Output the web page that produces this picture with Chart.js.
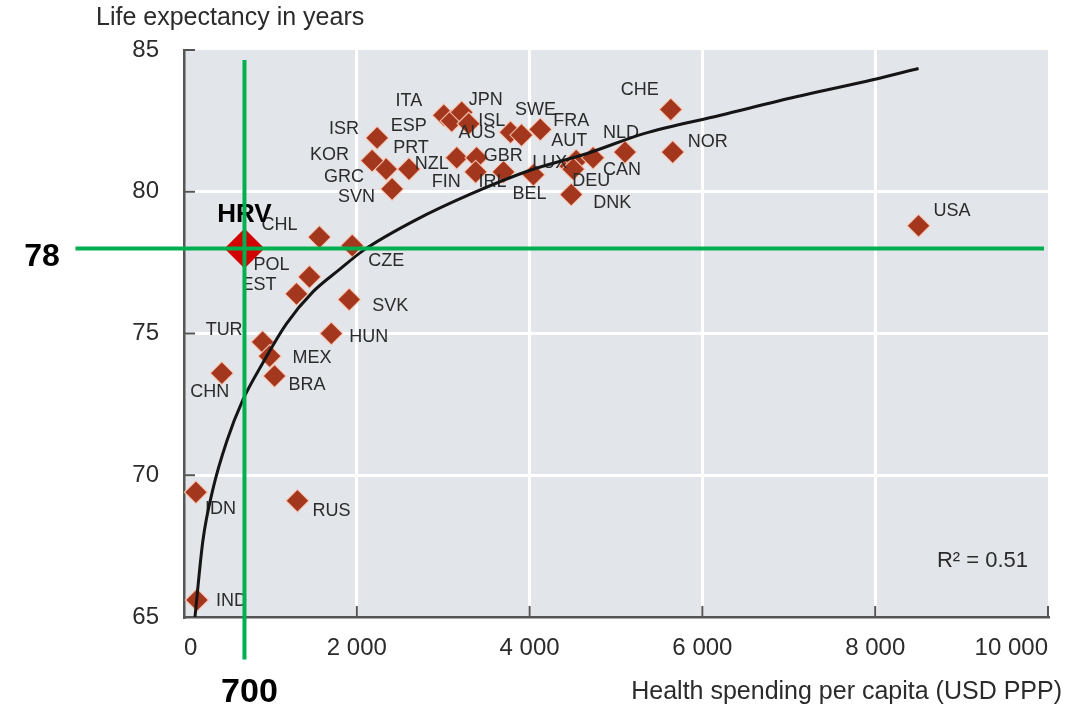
<!DOCTYPE html>
<html>
<head>
<meta charset="utf-8">
<script src="https://cdn.jsdelivr.net/npm/chart.js@4.4.1/dist/chart.umd.min.js"></script>
<style>
  html, body { margin: 0; padding: 0; background: #fff; }
  #wrap { width: 1068px; height: 709px; }
</style>
</head>
<body>
<div id="wrap"><canvas id="chart" width="1068" height="709"></canvas></div>
<script>
// values
const countries = ['IND', 'IDN', 'RUS', 'CHN', 'TUR', 'MEX', 'BRA', 'HUN', 'SVK', 'EST', 'POL', 'CZE', 'CHL',
    'SVN', 'GRC', 'KOR', 'ISR', 'PRT', 'ITA', 'ESP', 'JPN', 'ISL', 'AUS', 'SWE', 'FRA', 'NZL', 'GBR', 'FIN',
    'IRL', 'BEL', 'LUX', 'AUT', 'DEU', 'CAN', 'NLD', 'DNK', 'CHE', 'NOR', 'USA'];
const spending = [150, 138, 1313, 438, 910, 991, 1048, 1705, 1912, 1302, 1452, 1947, 1567,
    2408, 2339, 2177, 2235, 2604, 3007, 3099, 3214, 3295, 3779, 3906, 4124, 3157, 3387, 3376,
    3698, 4044, 4470, 4539, 4505, 4735, 5104, 4482, 5634, 5657, 8502];
const lifeExp = [65.6, 69.4, 69.1, 73.6, 74.7, 74.2, 73.5, 75.0, 76.2, 76.4, 77.0, 78.1, 78.4,
    80.1, 80.8, 81.1, 81.9, 80.8, 82.7, 82.5, 82.8, 82.4, 82.1, 82.0, 82.2, 81.2, 81.2, 80.7,
    80.7, 80.6, 80.9, 81.1, 80.8, 81.2, 81.4, 79.9, 82.9, 81.4, 78.8];

// fitted curve as drawn in the picture
const trendSpending = [127, 219, 334, 495, 680, 910, 1187, 1486, 1797, 2085, 2679, 3341, 3998, 4666, 5323, 6210, 7085, 7972, 8502];
const trendLifeExp = [65.0, 67.7, 69.5, 71.2, 72.65, 73.95, 75.35, 76.45, 77.25, 77.95, 79.0, 79.95, 80.75, 81.35, 82.05, 82.7, 83.35, 83.95, 84.35];

const hrvSpending = 700;
const hrvLifeExp = 78;
const guideYSpan = [84.65, 63.5];
const guideXSpan = [-1256, 9954];

const xTicks = [0, 2000, 4000, 6000, 8000, 10000];
const yTicks = [65, 70, 75, 80, 85];
const rSquared = 'R² = 0.51';

// label placement: dx, dy from the marker, text alignment
const labelPlace = {
    IND: [19, 1, 'left'], IDN: [9, 17, 'left'], RUS: [15, 10, 'left'], CHN: [-12, 19, 'center'],
    TUR: [-20, -12, 'right'], MEX: [23, 2, 'left'], BRA: [14, 9, 'left'], HUN: [18, 4, 'left'],
    SVK: [23, 7, 'left'], EST: [-20, -9, 'right'], POL: [-20, -12, 'right'], CZE: [16, 15, 'left'],
    CHL: [-22, -12, 'right'], SVN: [-17, 8, 'right'], GRC: [-22, 8, 'right'], KOR: [-23, -6, 'right'],
    ISR: [-18, -9, 'right'], PRT: [2, -21, 'center'], ITA: [-35, -14, 'center'], ESP: [-43, 5, 'center'],
    JPN: [24, -12, 'center'], ISL: [23, -3, 'center'], AUS: [-15, 1, 'right'], SWE: [14, -25, 'center'],
    FRA: [13, -8, 'left'], NZL: [-8, 6, 'right'], GBR: [7, -2, 'left'], FIN: [-15, 10, 'right'],
    IRL: [-11, 10, 'center'], BEL: [-4, 19, 'center'], LUX: [-3, -3, 'right'], AUT: [-7, -20, 'center'],
    DEU: [18, 12, 'center'], CAN: [10, 12, 'left'], NLD: [-4, -19, 'center'], DNK: [22, 8, 'left'],
    CHE: [-31, -20, 'center'], NOR: [15, -10, 'left'], USA: [15, -15, 'left']
};

const FONT = "'Liberation Sans', Arial, sans-serif";
const TEXT = '#2b2b2b';
const AXIS = '#555555';

function spaced(v) {
    return String(v).replace(/\B(?=(\d{3})+(?!\d))/g, ' ');
}

const backdrop = {
    id: 'backdrop',
    beforeDraw(chart) {
        const { ctx, chartArea: a } = chart;
        ctx.save();
        ctx.fillStyle = '#e2e5e9';
        ctx.fillRect(a.left, a.top, a.right - a.left, a.bottom - a.top);
        ctx.restore();
    }
};

// small tick marks pointing into the plot
const innerTicks = {
    id: 'innerTicks',
    beforeDatasetsDraw(chart) {
        const { ctx, chartArea: a, scales } = chart;
        ctx.save();
        ctx.strokeStyle = AXIS;
        ctx.lineWidth = 2;
        ctx.beginPath();
        yTicks.forEach(v => {
            const y = scales.y.getPixelForValue(v);
            ctx.moveTo(a.left, y);
            ctx.lineTo(a.left + 11, y);
        });
        xTicks.slice(1).forEach(v => {
            const x = scales.x.getPixelForValue(v);
            ctx.moveTo(x, a.bottom);
            ctx.lineTo(x, a.bottom - 11);
        });
        ctx.stroke();
        ctx.restore();
    }
};

const markLabels = {
    id: 'markLabels',
    afterDatasetDraw(chart, args) {
        const ds = chart.data.datasets[args.index];
        const { ctx } = chart;
        ctx.save();
        ctx.textBaseline = 'middle';
        if (ds.id === 'countries') {
            ctx.font = '18px ' + FONT;
            ctx.fillStyle = TEXT;
            args.meta.data.forEach((pt, i) => {
                const p = labelPlace[countries[i]];
                ctx.textAlign = p[2];
                ctx.fillText(countries[i], pt.x + p[0], pt.y + p[1]);
            });
        } else if (ds.id === 'hrv') {
            const pt = args.meta.data[0];
            ctx.font = 'bold 26px ' + FONT;
            ctx.fillStyle = '#000';
            ctx.textAlign = 'center';
            ctx.fillText('HRV', pt.x, pt.y - 34);
        }
        ctx.restore();
    },
    afterDraw(chart) {
        const { ctx, chartArea: a, scales } = chart;
        ctx.save();
        ctx.textBaseline = 'middle';
        ctx.fillStyle = TEXT;
        ctx.font = '25px ' + FONT;
        ctx.textAlign = 'left';
        ctx.fillText('Life expectancy in years', 96, 18);
        ctx.textAlign = 'right';
        ctx.fillText('Health spending per capita (USD PPP)', 1062, 692);
        ctx.font = '22px ' + FONT;
        ctx.fillText(rSquared, a.right - 20, scales.y.getPixelForValue(66.97));
        ctx.fillStyle = '#000';
        ctx.font = 'bold 32px ' + FONT;
        ctx.textAlign = 'center';
        ctx.fillText(String(hrvLifeExp), 42, scales.y.getPixelForValue(hrvLifeExp) + 9);
        ctx.font = 'bold 34px ' + FONT;
        ctx.fillText(String(hrvSpending), scales.x.getPixelForValue(hrvSpending) + 5, 693);
        ctx.restore();
    }
};

new Chart(document.getElementById('chart'), {
    type: 'scatter',
    data: {
        datasets: [
            {
                id: 'guideV',
                data: guideYSpan.map(y => ({ x: hrvSpending, y })),
                showLine: true, borderColor: '#00b050', borderWidth: 4,
                pointRadius: 0, clip: false, order: 0
            },
            {
                id: 'guideH',
                data: guideXSpan.map(x => ({ x, y: hrvLifeExp })),
                showLine: true, borderColor: '#00b050', borderWidth: 4,
                pointRadius: 0, clip: false, order: 0
            },
            {
                id: 'hrv',
                data: [{ x: hrvSpending, y: hrvLifeExp }],
                pointStyle: 'rectRot', pointRadius: 20,
                backgroundColor: '#d20000', borderColor: '#d20000', borderWidth: 0,
                clip: false, order: 1
            },
            {
                id: 'trend',
                data: trendSpending.map((x, i) => ({ x, y: trendLifeExp[i] })),
                showLine: true, borderColor: '#151515', borderWidth: 3,
                cubicInterpolationMode: 'monotone', pointRadius: 0, order: 2
            },
            {
                id: 'countries',
                data: spending.map((x, i) => ({ x, y: lifeExp[i] })),
                pointStyle: 'rectRot', pointRadius: 11.5,
                backgroundColor: '#a2371d', borderColor: 'rgba(255,205,185,0.85)', borderWidth: 1.2,
                clip: false, order: 3
            }
        ]
    },
    options: {
        responsive: false,
        animation: false,
        devicePixelRatio: 1,
        layout: { padding: { top: 50, right: 13, left: 0, bottom: 0 } },
        plugins: { legend: { display: false }, tooltip: { enabled: false } },
        scales: {
            x: {
                type: 'linear', min: 0, max: 10000,
                afterBuildTicks: s => { s.ticks = xTicks.map(value => ({ value })); },
                afterFit: s => { s.height = 92; },
                ticks: {
                    align: 'inner', padding: 17, color: TEXT,
                    font: { family: FONT, size: 24 },
                    callback: v => spaced(v)
                },
                grid: {
                    drawTicks: false, lineWidth: 3,
                    color: c => (c.tick && c.tick.value > 0 && c.tick.value < 10000) ? '#ffffff' : 'rgba(0,0,0,0)'
                },
                border: { display: true, color: AXIS, width: 2.5 }
            },
            y: {
                type: 'linear', min: 65, max: 85,
                afterBuildTicks: s => { s.ticks = yTicks.map(value => ({ value })); },
                afterFit: s => { s.width = 184; },
                ticks: {
                    padding: 25, color: TEXT,
                    font: { family: FONT, size: 24 }
                },
                grid: {
                    drawTicks: false, lineWidth: 3,
                    color: c => (c.tick && c.tick.value > 65 && c.tick.value < 85) ? '#ffffff' : 'rgba(0,0,0,0)'
                },
                border: { display: true, color: AXIS, width: 2.5 }
            }
        }
    },
    plugins: [backdrop, innerTicks, markLabels]
});
</script>
</body>
</html>
